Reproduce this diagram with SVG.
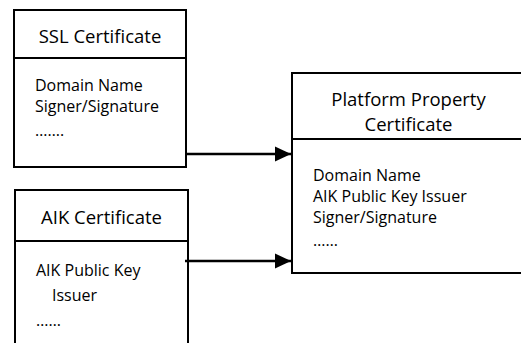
<svg xmlns="http://www.w3.org/2000/svg" width="521" height="343" viewBox="0 0 521 343">
  <style>
    .box { fill: #ffffff; stroke: #000000; stroke-width: 2; }
    .div { stroke: #000000; stroke-width: 2; fill: none; }
    .title { font-family: "Open Sans", "Liberation Sans", sans-serif; font-size: 18.5px; fill: #000000; text-anchor: middle; }
    .body { font-family: "Open Sans", "Liberation Sans", sans-serif; font-size: 16px; fill: #000000; }
    .conn { stroke: #000000; stroke-width: 2.5; fill: none; }
  </style>
  <defs>
    <marker id="arrow" markerUnits="userSpaceOnUse" markerWidth="17" markerHeight="16" refX="16" refY="8" orient="auto">
      <path d="M0,0.5 L16,8 L0,15.5 Z" fill="#000000"/>
    </marker>
  </defs>
  <rect x="0" y="0" width="521" height="343" fill="#ffffff"/>

  <g id="ssl-certificate">
    <rect class="box" x="14" y="10" width="172" height="157"/>
    <line class="div" x1="14" y1="58" x2="186" y2="58"/>
    <text class="title" x="100" y="43">SSL Certificate</text>
    <text class="body" x="35" y="91">Domain Name</text>
    <text class="body" x="35" y="112">Signer/Signature</text>
    <text class="body" x="35" y="136">…….</text>
  </g>

  <g id="aik-certificate">
    <rect class="box" x="15" y="190" width="173" height="170"/>
    <line class="div" x1="15" y1="241" x2="188" y2="241"/>
    <text class="title" x="101.5" y="224">AIK Certificate</text>
    <text class="body" x="36" y="276">AIK Public Key</text>
    <text class="body" x="52" y="301">Issuer</text>
    <text class="body" x="36" y="326">……</text>
  </g>

  <g id="platform-property-certificate">
    <rect class="box" x="292" y="73" width="240" height="200"/>
    <line class="div" x1="292" y1="139" x2="532" y2="139"/>
    <text class="title" x="408.5" y="105.5">Platform Property</text>
    <text class="title" x="408.5" y="130.5">Certificate</text>
    <text class="body" x="313" y="181">Domain Name</text>
    <text class="body" x="313" y="202">AIK Public Key Issuer</text>
    <text class="body" x="313" y="223">Signer/Signature</text>
    <text class="body" x="313" y="246">……</text>
  </g>

  <g id="connectors">
    <line class="conn" x1="186" y1="154" x2="291" y2="154" marker-end="url(#arrow)"/>
    <line class="conn" x1="185" y1="261" x2="291" y2="261" marker-end="url(#arrow)"/>
  </g>
</svg>
